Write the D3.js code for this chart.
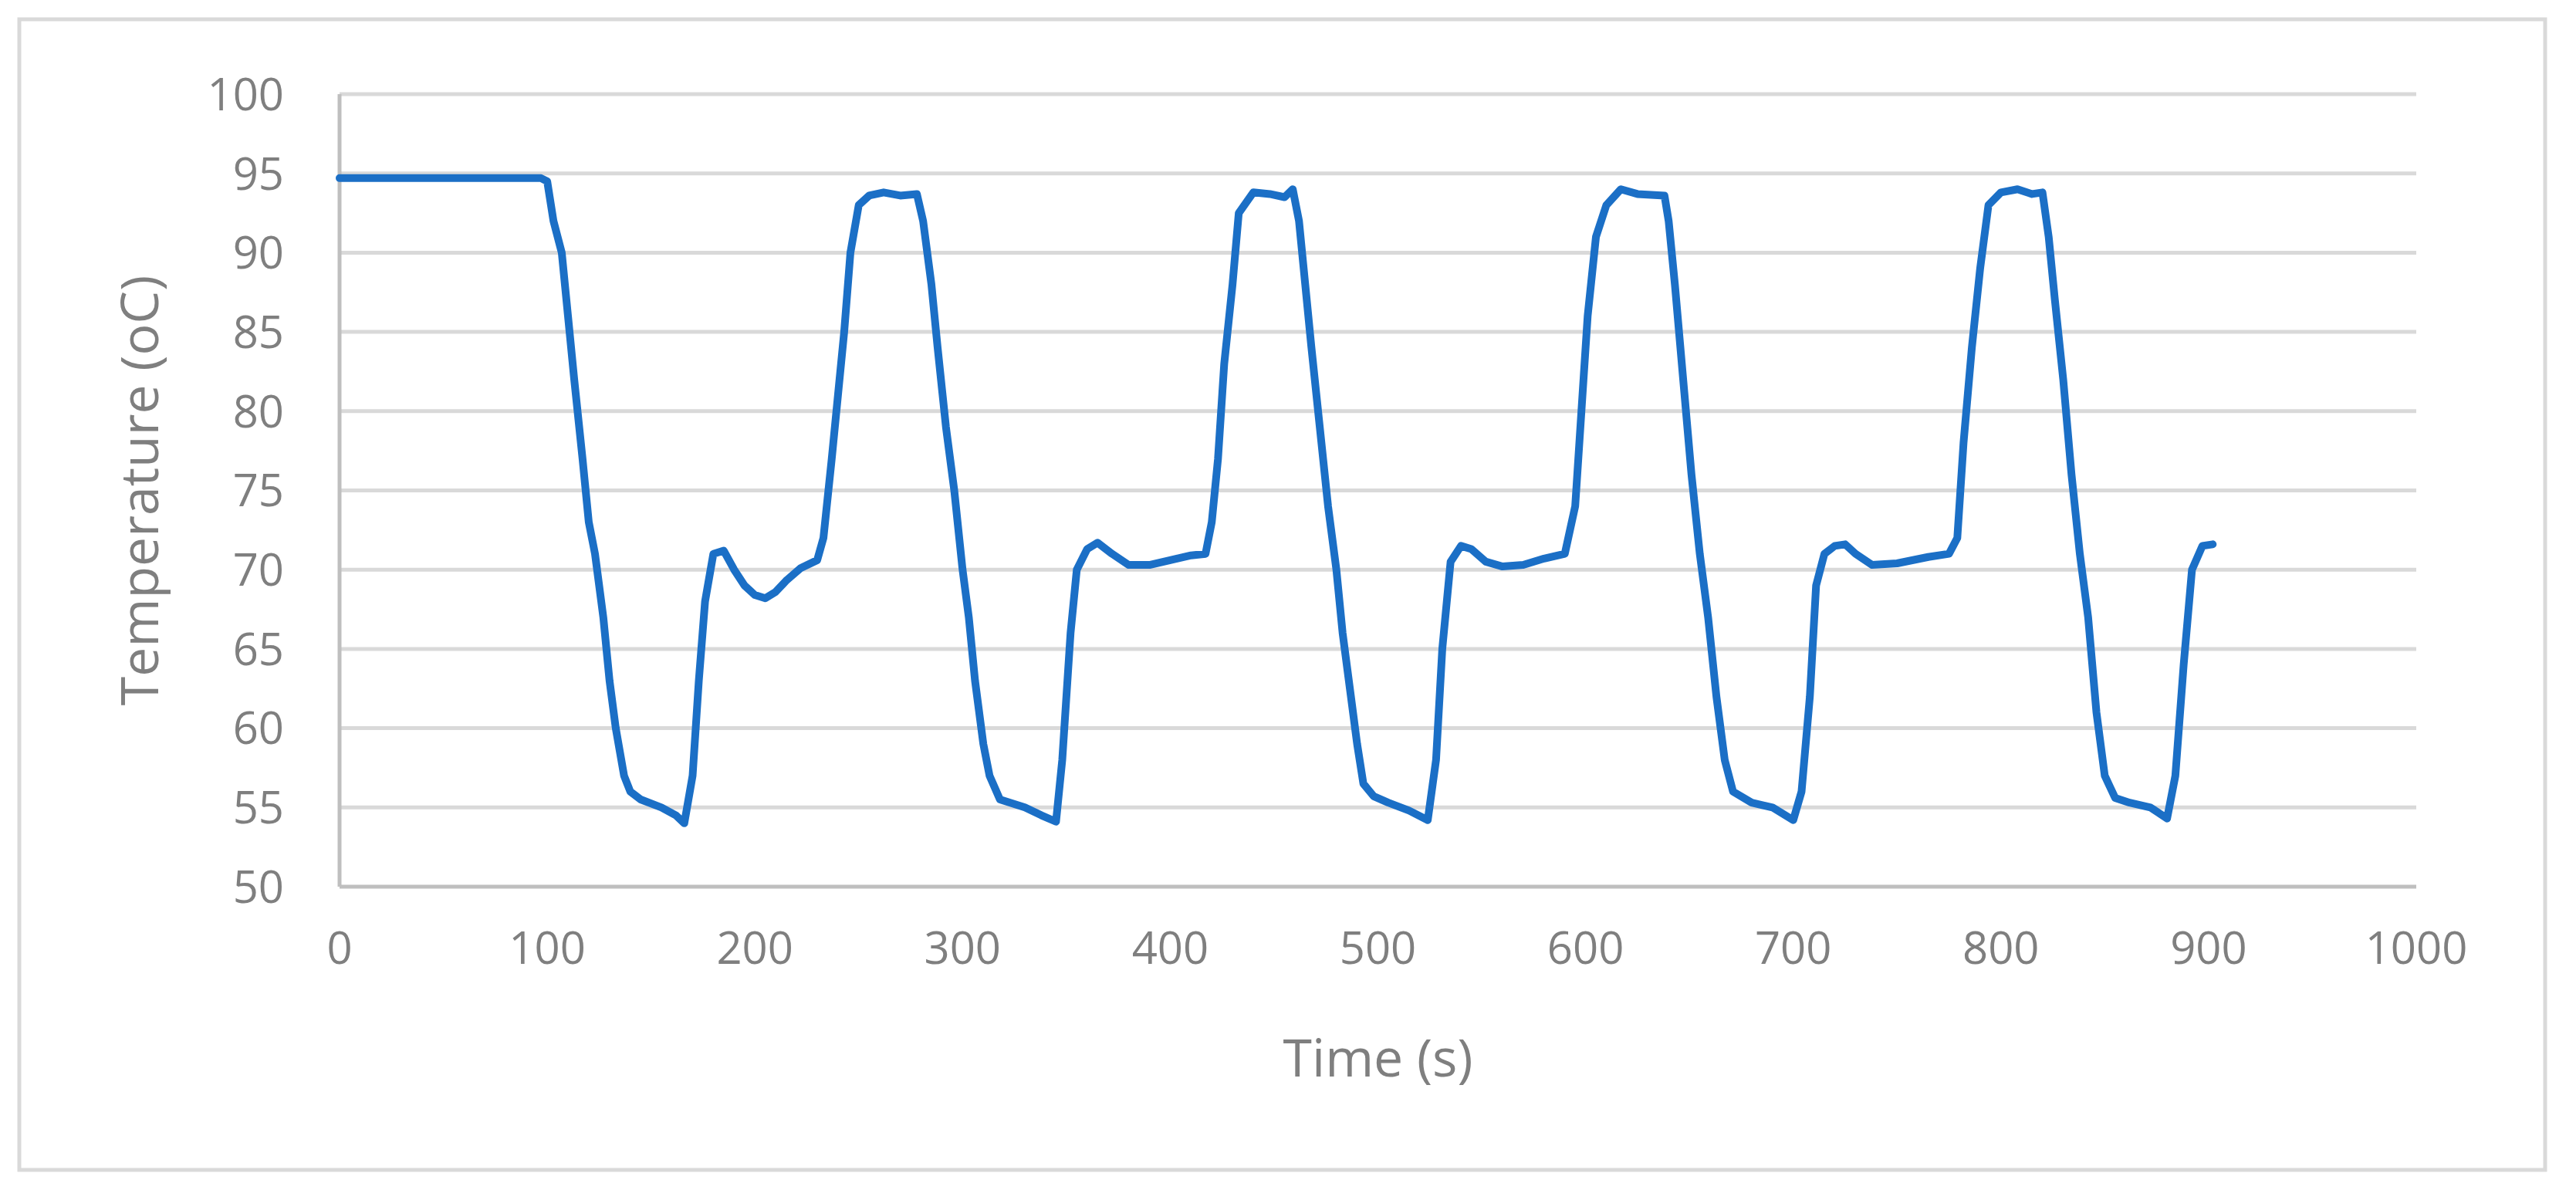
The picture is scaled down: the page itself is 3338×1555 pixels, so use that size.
<!DOCTYPE html>
<html>
<head>
<meta charset="utf-8">
<script src="https://cdn.jsdelivr.net/npm/d3@7"></script>
<style>
  body { margin: 0; background: #fff; }
  text { font-family: "Open Sans", "Liberation Sans", sans-serif; fill: #7f7f7f; }
</style>
</head>
<body>
<svg id="chart" width="3338" height="1555"></svg>
<script>
// readings estimated off the reference trace
var timeS = [0, 20, 40, 60, 80, 97, 100, 103, 107, 110, 113, 117, 120, 123, 127, 130, 133, 137, 140, 145, 155, 162, 166,
    170, 173, 176, 180, 185, 190, 195, 200, 205, 210, 215, 222, 230, 233, 237, 240, 243, 246, 250, 255, 262, 270, 278,
    281, 285, 288, 292, 296, 300, 303, 306, 310, 313, 318, 330, 338, 345, 348, 352, 355, 360, 365, 372, 380, 390, 400,
    410, 417, 420, 423, 426, 430, 433, 440, 448, 455, 459, 462, 465, 468, 472, 476, 480, 483, 487, 490, 493, 498, 505,
    515, 524, 528, 531, 535, 540, 545, 552, 560, 570, 580, 590, 595, 598, 601, 605, 610, 617, 625, 638, 640, 643, 647,
    651, 655, 659, 663, 667, 671, 680, 690, 700, 704, 708, 711, 715, 720, 725, 730, 738, 750, 765, 775, 779, 782, 786,
    790, 794, 800, 808, 815, 820, 823, 826, 830, 834, 838, 842, 846, 850, 855, 862, 872, 880, 884, 888, 892, 897, 902];
var tempC = [94.7, 94.7, 94.7, 94.7, 94.7, 94.7, 94.5, 92, 90, 86, 82, 77, 73, 71, 67, 63, 60, 57, 56, 55.5, 55, 54.5, 54,
    57, 63, 68, 71, 71.2, 70, 69, 68.4, 68.2, 68.6, 69.3, 70.1, 70.6, 72, 77, 81, 85, 90, 93, 93.6, 93.8, 93.6, 93.7,
    92, 88, 84, 79, 75, 70, 67, 63, 59, 57, 55.5, 55, 54.5, 54.1, 58, 66, 70, 71.3, 71.7, 71, 70.3, 70.3, 70.6,
    70.9, 71, 73, 77, 83, 88, 92.5, 93.8, 93.7, 93.5, 94, 92, 88, 84, 79, 74, 70, 66, 62, 59, 56.5, 55.7, 55.3,
    54.8, 54.2, 58, 65, 70.5, 71.5, 71.3, 70.5, 70.2, 70.3, 70.7, 71, 74, 80, 86, 91, 93, 94, 93.7, 93.6, 92, 88, 82,
    76, 71, 67, 62, 58, 56, 55.3, 55, 54.2, 56, 62, 69, 71, 71.5, 71.6, 71, 70.3, 70.4, 70.8, 71, 72, 78, 84,
    89, 93, 93.8, 94, 93.7, 93.8, 91, 87, 82, 76, 71, 67, 61, 57, 55.6, 55.3, 55, 54.3, 57, 64, 70, 71.5, 71.6];
var xTicks = [0, 100, 200, 300, 400, 500, 600, 700, 800, 900, 1000];
var yTicks = [50, 55, 60, 65, 70, 75, 80, 85, 90, 95, 100];

var svg = d3.select('#chart');
var plotLeft = 440, plotRight = 3131, plotTop = 122, plotBottom = 1149;

svg.append('rect')
    .attr('x', 25).attr('y', 25).attr('width', 3273).attr('height', 1491)
    .attr('fill', 'none').attr('stroke', '#d9d9d9').attr('stroke-width', 5);

var x = d3.scaleLinear().domain([0, 1000]).range([plotLeft, plotRight]);
var y = d3.scaleLinear().domain([50, 100]).range([plotBottom, plotTop]);

// gridlines
svg.append('g').selectAll('line')
    .data(yTicks.slice(1))
    .join('line')
    .attr('x1', plotLeft).attr('x2', plotRight)
    .attr('y1', d => y(d)).attr('y2', d => y(d))
    .attr('stroke', '#d9d9d9').attr('stroke-width', 5);

// axis lines
svg.append('line').attr('x1', plotLeft).attr('x2', plotRight).attr('y1', plotBottom).attr('y2', plotBottom)
    .attr('stroke', '#bfbfbf').attr('stroke-width', 5);
svg.append('line').attr('x1', plotLeft).attr('x2', plotLeft).attr('y1', plotTop).attr('y2', plotBottom)
    .attr('stroke', '#bfbfbf').attr('stroke-width', 5);

svg.append('g').selectAll('text')
    .data(yTicks)
    .join('text')
    .attr('x', plotLeft - 72).attr('y', d => y(d))
    .attr('dy', '0.36em')
    .attr('text-anchor', 'end')
    .attr('font-size', 58)
    .text(d => d);

svg.append('g').selectAll('text')
    .data(xTicks)
    .join('text')
    .attr('x', d => x(d)).attr('y', plotBottom + 100)
    .attr('text-anchor', 'middle')
    .attr('font-size', 58)
    .text(d => d);

svg.append('text')
    .attr('x', (plotLeft + plotRight) / 2).attr('y', 1395)
    .attr('text-anchor', 'middle').attr('font-size', 68)
    .text('Time (s)');

svg.append('text')
    .attr('transform', `translate(205, ${(plotTop + plotBottom) / 2}) rotate(-90)`)
    .attr('text-anchor', 'middle').attr('font-size', 68)
    .text('Temperature (oC)');

var pts = timeS.map((t, i) => [t, tempC[i]]);
svg.append('path')
    .datum(pts)
    .attr('fill', 'none')
    .attr('stroke', '#1b6fc6')
    .attr('stroke-width', 10)
    .attr('stroke-linejoin', 'round')
    .attr('stroke-linecap', 'round')
    .attr('d', d3.line().x(d => x(d[0])).y(d => y(d[1])));
</script>
</body>
</html>
